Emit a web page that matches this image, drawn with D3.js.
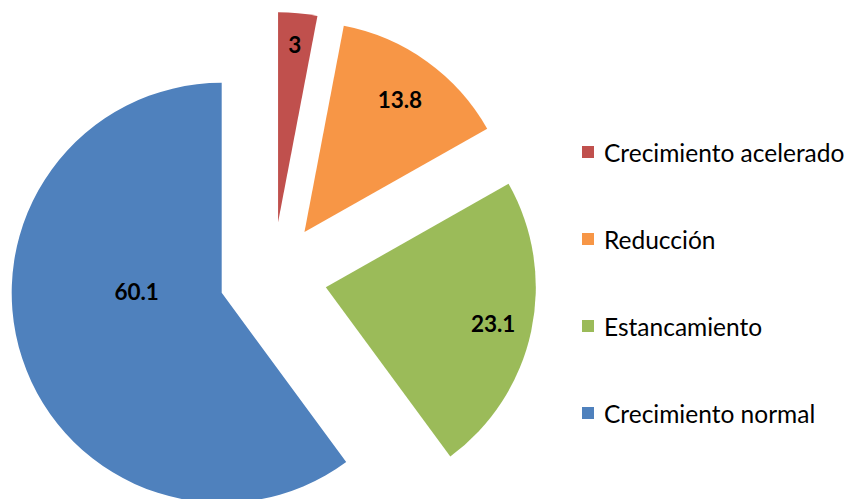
<!DOCTYPE html>
<html><head><meta charset="utf-8">
<script src="https://cdn.jsdelivr.net/npm/d3@7"></script>
<style>body{margin:0;background:#fff}svg{display:block}</style>
</head><body>
<svg id="chart" width="848" height="499"></svg>
<script>
const categories = ["Crecimiento acelerado", "Reducción", "Estancamiento", "Crecimiento normal"];
const values = [3, 13.8, 23.1, 60.1];
const labels = ["3", "13.8", "23.1", "60.1"];
const colors = ["#C0504D", "#F79646", "#9BBB59", "#4F81BD"];

const svg = d3.select("#chart");
const cx = 273, cy = 276, R = 210, explode = 54;
const labelK = [0.85, 0.78, 0.815, 0.405];
const labelAngleShift = [0, 0, 0, 0.33];

const pie = d3.pie().sort(null).value(d => d).startAngle(0).endAngle(2 * Math.PI);
const arcs = pie(values);
const arc = d3.arc().innerRadius(0).outerRadius(R);

const g = svg.append("g").attr("transform", `translate(${cx},${cy})`);
const slices = g.selectAll("g.slice").data(arcs).enter().append("g")
  .attr("class", "slice")
  .attr("transform", d => {
    const m = (d.startAngle + d.endAngle) / 2;
    return `translate(${explode * Math.sin(m)},${-explode * Math.cos(m)})`;
  });
slices.append("path").attr("d", arc).attr("fill", (d, i) => colors[i]);
slices.append("text")
  .attr("x", (d, i) => { const m = (d.startAngle + d.endAngle) / 2 + labelAngleShift[i]; return labelK[i] * R * Math.sin(m); })
  .attr("y", (d, i) => { const m = (d.startAngle + d.endAngle) / 2 + labelAngleShift[i]; return -labelK[i] * R * Math.cos(m); })
  .attr("text-anchor", "middle").attr("dominant-baseline", "central")
  .attr("font-family", "Lato, 'Open Sans', sans-serif").attr("font-weight", "bold")
  .attr("font-size", 22.5).attr("fill", "#000")
  .text((d, i) => labels[i]);

const legend = svg.append("g").attr("transform", "translate(582,152)");
const ly = d3.scalePoint().domain(categories).range([0, 261]);
const items = legend.selectAll("g").data(categories).enter().append("g")
  .attr("transform", d => `translate(0,${ly(d)})`);
items.append("rect").attr("x", 0).attr("y", -6).attr("width", 12).attr("height", 12)
  .attr("fill", (d, i) => colors[i]);
items.append("text").attr("x", 22).attr("y", 0).attr("dominant-baseline", "central")
  .attr("font-family", "Lato, 'Open Sans', sans-serif").attr("font-size", 24.5).attr("fill", "#000")
  .text(d => d);
</script>
</body></html>
